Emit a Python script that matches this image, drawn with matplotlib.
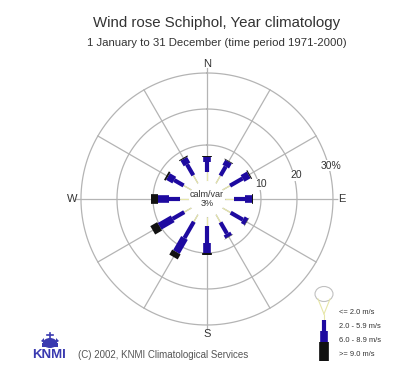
import numpy as np
import matplotlib.pyplot as plt
from matplotlib.patches import Ellipse, Rectangle, Polygon

plt.rcParams['font.family'] = ['Liberation Sans', 'DejaVu Sans']

# wind direction sectors, degrees clockwise from north
directions = [360, 30, 60, 90, 120, 150, 180, 210, 240, 270, 300, 330]

# frequency (%) per speed class and direction
freq_le2 = [2.6, 2.5, 2.4, 2.5, 2.6, 2.5, 2.4, 2.3, 2.3, 2.4, 2.5, 2.6]
freq_2_6 = [2.7, 2.9, 4.0, 3.2, 3.9, 3.6, 4.7, 5.2, 3.7, 3.1, 3.0, 3.5]
freq_6_9 = [1.5, 1.6, 2.0, 1.8, 1.2, 1.0, 2.8, 4.5, 4.2, 3.0, 2.0, 1.8]
freq_ge9 = [0.2, 0.2, 0.3, 0.2, 0.1, 0.1, 0.6, 1.6, 2.2, 2.0, 0.5, 0.3]
calm_pct = 3

speed_labels = ['<= 2.0 m/s', '2.0 - 5.9 m/s', '6.0 - 8.9 m/s', '>= 9.0 m/s']
ring_values = [10, 20, 30]
compass = {0: 'N', 90: 'E', 180: 'S', 270: 'W'}

# drawing style per speed class: colour, line width (pt)
class_colors = ['#e6e6a8', '#1e0aa0', '#1e0aa0', '#111111']
class_widths = [0.8, 3.0, 5.5, 7.0]
grid_color = '#b4b4b4'

fig = plt.figure(figsize=(4.07, 3.65), dpi=100)

# rose
ax = fig.add_axes([0.1857, 0.0948, 0.6457, 0.72], projection='polar')
ax.set_theta_zero_location('N')
ax.set_theta_direction(-1)
ax.set_rorigin(-5)
ax.set_ylim(0, 31.5)
ax.axis('off')

th = np.linspace(0, 2 * np.pi, 361)
for v in ring_values:
    ax.plot(th, np.full_like(th, v), color=grid_color, lw=0.9, zorder=1)
for d in range(0, 360, 30):
    rmax = 31.5 if d in compass else 30
    ax.plot([np.deg2rad(d)] * 2, [0, rmax], color=grid_color, lw=0.9, zorder=1)

classes = [freq_le2, freq_2_6, freq_6_9, freq_ge9]
for i, d in enumerate(directions):
    t = np.deg2rad(d % 360)
    bottom = 0
    for k, cls in enumerate(classes):
        h = cls[i]
        ax.plot([t, t], [bottom, bottom + h], color=class_colors[k],
                lw=class_widths[k], solid_capstyle='butt', zorder=3)
        bottom += h

for d, lab in compass.items():
    ax.text(np.deg2rad(d), 32.4, lab, ha='center', va='center',
            fontsize=8, color='#333333')
for v in ring_values:
    lab = f'{v}%' if v == ring_values[-1] else f'{v}'
    ax.text(np.deg2rad(75), v + 0.6, lab, ha='center', va='center',
            fontsize=7.5, color='#333333', zorder=4,
            bbox=dict(boxstyle='square,pad=0.05', fc='white', ec='none'))
ax.text(0.5, 0.5, f'calm/var\n{calm_pct}%', transform=ax.transAxes,
        ha='center', va='center', fontsize=6.5, color='#333333',
        linespacing=1.1)

# titles
fig.text(0.533, 1 - 23 / 365, 'Wind rose Schiphol, Year climatology',
         ha='center', va='center', fontsize=10.8, color='#333333')
fig.text(0.532, 1 - 43 / 365,
         '1 January to 31 December (time period 1971-2000)',
         ha='center', va='center', fontsize=8.2, color='#333333')

# overlay in pixel coordinates for legend and logo
ov = fig.add_axes([0, 0, 1, 1], zorder=-1)
ov.set_xlim(0, 407)
ov.set_ylim(365, 0)
ov.axis('off')

# legend: calm circle, then stacked speed classes
lx = 324
ov.add_patch(Ellipse((lx, 294), 18, 15, fc='white', ec='#c0c0c0', lw=0.8))
ov.plot([lx - 6, lx], [299, 314], color='#e6e6a8', lw=0.8)
ov.plot([lx + 6, lx], [299, 314], color='#e6e6a8', lw=0.8)
seg_y = [314, 320, 331, 342, 361]
for k in range(4):
    ov.plot([lx, lx], [seg_y[k], seg_y[k + 1]], color=class_colors[k],
            lw=class_widths[k], solid_capstyle='butt')
for k, lab in enumerate(speed_labels):
    ov.text(339, [312, 327, 341, 355][k], lab, ha='left', va='center',
            fontsize=5.4, color='#333333')

# KNMI logo
logo_blue = '#3a3ab0'
ov.add_patch(Ellipse((50, 343), 14, 10, fc=logo_blue, ec='none'))
ov.add_patch(Rectangle((42, 343), 16, 4, fc=logo_blue, ec='none'))
ov.plot([50, 50], [333, 339], color=logo_blue, lw=1.2)
ov.plot([47, 53], [335, 335], color=logo_blue, lw=1.2)
ov.add_patch(Polygon([[41, 341], [44, 338], [44, 343]], fc=logo_blue, ec='none'))
ov.add_patch(Polygon([[59, 341], [56, 338], [56, 343]], fc=logo_blue, ec='none'))
ov.text(49, 355, 'KNMI', ha='center', va='center', fontsize=9.5,
        fontweight='bold', color=logo_blue)
ov.text(78, 355, '(C) 2002, KNMI Climatological Services', ha='left',
        va='center', fontsize=7, color='#555555')

fig.savefig('out.png', dpi=100, facecolor='white')
